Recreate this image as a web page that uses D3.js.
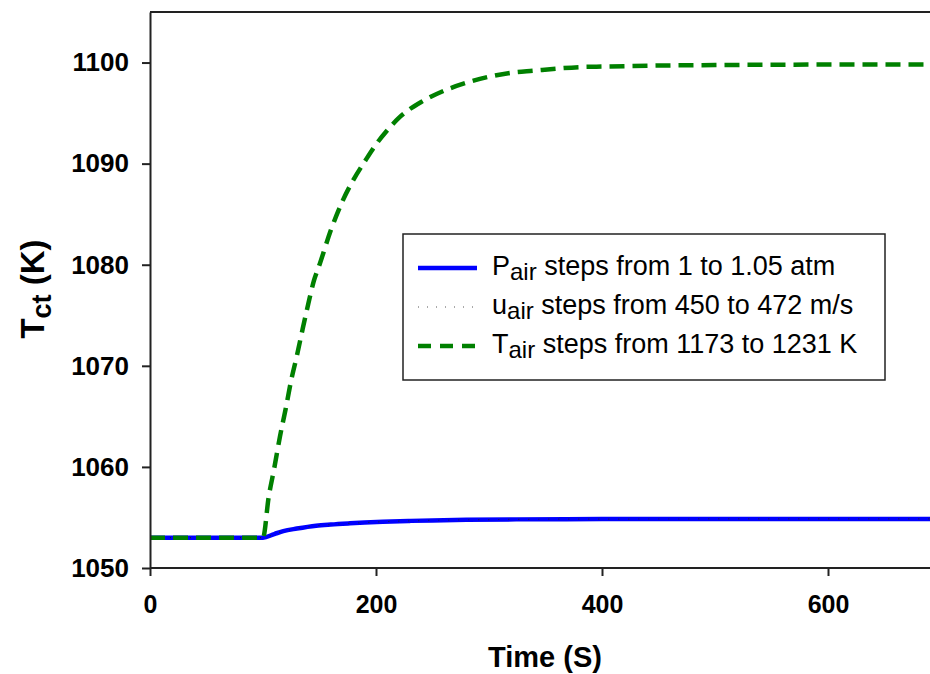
<!DOCTYPE html>
<html>
<head>
<meta charset="utf-8">
<script src="https://cdn.jsdelivr.net/npm/d3@7"></script>
<style>
  body { margin: 0; background: #fff; }
  svg { display: block; font-family: "Liberation Sans", Arial, sans-serif; }
</style>
</head>
<body>
<svg id="chart"></svg>
<script>
// values
var pTime  = [0, 100, 110, 118, 130, 147, 160, 177, 190, 206, 230, 250, 280, 324, 400, 500, 600, 700];
var pTemp  = [1053, 1053, 1053.36, 1053.65, 1053.9, 1054.18, 1054.3, 1054.42, 1054.5, 1054.58, 1054.66, 1054.71, 1054.77, 1054.81, 1054.84, 1054.85, 1054.85, 1054.85];

var uTime  = [0, 100, 110, 118, 130, 147, 160, 177, 190, 206, 230, 250, 280, 324, 400, 500, 600, 700];
var uTemp  = [1053, 1053, 1053.36, 1053.65, 1053.9, 1054.18, 1054.3, 1054.42, 1054.5, 1054.58, 1054.66, 1054.71, 1054.77, 1054.81, 1054.84, 1054.85, 1054.85, 1054.85];

var tTime  = [0, 100, 105, 110, 115, 120, 125, 130, 135, 140, 145, 150, 160, 170, 180, 190, 200, 210, 220, 230, 240, 260, 280, 300, 320, 340, 360, 380, 400, 450, 500, 600, 700];
var tTemp  = [1053, 1053, 1057.0, 1059.9, 1063.0, 1065.7, 1068.6, 1071.0, 1073.6, 1076.1, 1078.4, 1080.0, 1083.4, 1086.2, 1088.4, 1090.2, 1091.9, 1093.3, 1094.5, 1095.4, 1096.1, 1097.2, 1098.0, 1098.6, 1099.0, 1099.2, 1099.4, 1099.55, 1099.6, 1099.7, 1099.75, 1099.8, 1099.8];

var xTicks = [0, 200, 400, 600];
var yTicks = [1050, 1060, 1070, 1080, 1090, 1100];

var legendNames = ["P", "u", "T"];
var legendRest  = [" steps from 1 to 1.05 atm", " steps from 450 to 472 m/s", " steps from 1173 to 1231 K"];

var width = 930, height = 674;
var plotLeft = 150, plotTop = 12, plotBottom = 568;

var svg = d3.select("#chart").attr("width", width).attr("height", height);

var x = d3.scaleLinear().domain([0, 700]).range([plotLeft, plotLeft + 700 * 1.13]);
var y = d3.scaleLinear().domain([1050, 1105]).range([plotBottom, plotTop]);

svg.append("clipPath").attr("id", "plot")
  .append("rect").attr("x", plotLeft).attr("y", plotTop)
  .attr("width", width - plotLeft).attr("height", plotBottom - plotTop);

// frame top line
svg.append("line")
  .attr("x1", plotLeft).attr("x2", width).attr("y1", plotTop).attr("y2", plotTop)
  .attr("stroke", "#222").attr("stroke-width", 2);

var line = d3.line()
  .x(function(d) { return x(d[0]); })
  .y(function(d) { return y(d[1]); })
  .curve(d3.curveMonotoneX);

var g = svg.append("g").attr("clip-path", "url(#plot)");

g.append("path")
  .datum(d3.zip(pTime, pTemp))
  .attr("d", line).attr("fill", "none")
  .attr("stroke", "#0000ff").attr("stroke-width", 4.5);

g.append("path")
  .datum(d3.zip(uTime, uTemp))
  .attr("d", line).attr("fill", "none")
  .attr("stroke", "#222").attr("stroke-width", 1.2)
  .attr("stroke-dasharray", "1,9");

g.append("path")
  .datum(d3.zip(tTime, tTemp))
  .attr("d", line).attr("fill", "none")
  .attr("stroke", "#008000").attr("stroke-width", 4.5)
  .attr("stroke-dasharray", "15,8");

// axes
var xAxis = svg.append("g")
  .attr("transform", "translate(0," + plotBottom + ")")
  .call(d3.axisBottom(x).tickValues(xTicks).tickSize(8).tickSizeOuter(0).tickPadding(19).tickFormat(d3.format("d")));

var yAxis = svg.append("g")
  .attr("transform", "translate(" + plotLeft + ",0)")
  .call(d3.axisLeft(y).tickValues(yTicks).tickSize(8).tickSizeOuter(0).tickPadding(13).tickFormat(d3.format("d")));

[xAxis, yAxis].forEach(function(a) {
  a.select(".domain").attr("stroke", "#222").attr("stroke-width", 2);
  a.selectAll(".tick line").attr("stroke", "#222").attr("stroke-width", 2);
  a.selectAll(".tick text")
    .attr("font-family", "'Liberation Sans', Arial, sans-serif")
    .attr("font-weight", "bold").attr("fill", "#000");
});
xAxis.selectAll(".tick text").attr("font-size", 25);
yAxis.selectAll(".tick text").attr("font-size", 26);
xAxis.select(".domain").attr("d", "M" + plotLeft + ",0H" + width);

// axis titles
svg.append("text")
  .attr("x", 545).attr("y", 667)
  .attr("text-anchor", "middle")
  .attr("font-size", 29).attr("font-weight", "bold")
  .text("Time (S)");

var yt = svg.append("text")
  .attr("transform", "translate(44,289) rotate(-90)")
  .attr("text-anchor", "middle")
  .attr("font-size", 33).attr("font-weight", "bold");
yt.append("tspan").text("T");
yt.append("tspan").attr("font-size", 27).attr("dy", 7).text("ct");
yt.append("tspan").attr("dy", -7).text(" (K)");

// legend
var lg = svg.append("g");
lg.append("rect")
  .attr("x", 403).attr("y", 234).attr("width", 482).attr("height", 146)
  .attr("fill", "#fff").attr("stroke", "#222").attr("stroke-width", 1.5);

var legendStyle = [
  { stroke: "#0000ff", w: 4.5, dash: null },
  { stroke: "#555", w: 1, dash: "1,8" },
  { stroke: "#008000", w: 4.5, dash: "13,9" }
];

legendNames.forEach(function(name, i) {
  var cy = 268 + i * 39;
  lg.append("line")
    .attr("x1", 418).attr("x2", 477).attr("y1", cy).attr("y2", cy)
    .attr("stroke", legendStyle[i].stroke).attr("stroke-width", legendStyle[i].w)
    .attr("stroke-dasharray", legendStyle[i].dash);
  var t = lg.append("text")
    .attr("x", 492).attr("y", cy + 7)
    .attr("font-size", 27).attr("fill", "#000");
  t.append("tspan").text(name);
  t.append("tspan").attr("font-size", 24).attr("dy", 5).text("air");
  t.append("tspan").attr("dy", -5).text(legendRest[i]);
});
</script>
</body>
</html>
